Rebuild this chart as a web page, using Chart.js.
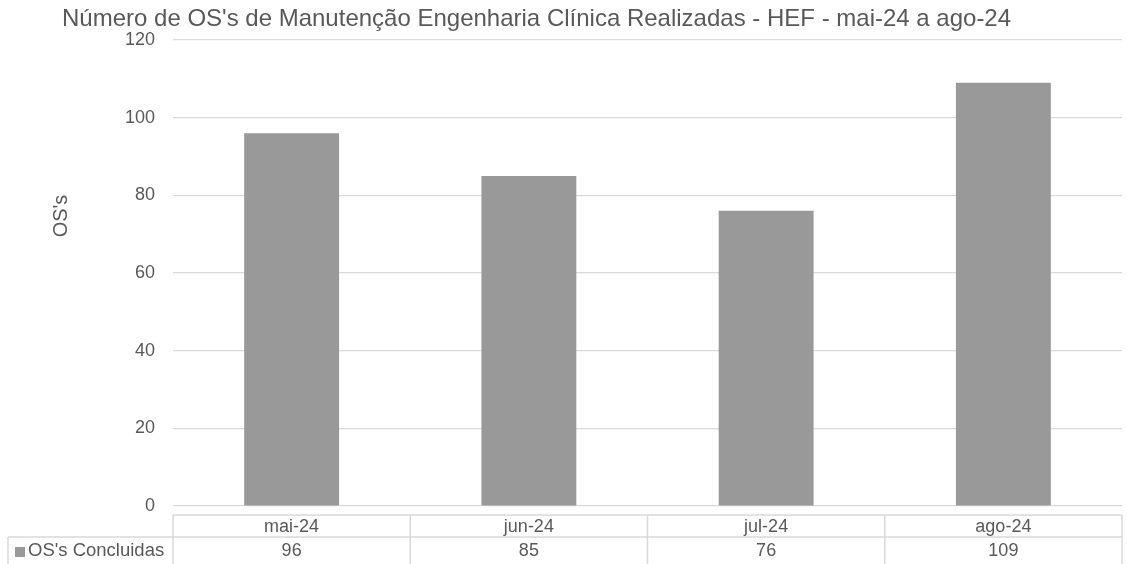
<!DOCTYPE html>
<html>
<head>
<meta charset="utf-8">
<script src="https://cdn.jsdelivr.net/npm/chart.js@4"></script>
<style>
  html, body { margin: 0; padding: 0; background: #fff; }
  #wrap { width: 1127px; height: 564px; }
</style>
</head>
<body>
<div id="wrap"><canvas id="graph" width="1127" height="564"></canvas></div>
<script>
const chart_title = "Número de OS's de Manutenção Engenharia Clínica Realizadas - HEF - mai-24 a ago-24";
const axis_title = "OS's";
const series_name = "OS's Concluidas";
const months = ["mai-24", "jun-24", "jul-24", "ago-24"];
const os_done = [96, 85, 76, 109];
const y_ticks = [0, 20, 40, 60, 80, 100, 120];

const text_color = "#595959";
const line_color = "#d9d9d9";
const bar_color = "#999999";
const font_family = "'Liberation Sans', Arial, sans-serif";

/* title, axis title and data table under the plot */
const extras = {
    id: "extras",
    afterDraw(chart) {
        const c = chart.ctx;
        const area = chart.chartArea;
        const xs = chart.scales.x;
        const step = (area.right - area.left) / months.length;

        c.save();
        c.fillStyle = text_color;
        c.textBaseline = "middle";

        c.font = "24px " + font_family;
        c.textAlign = "left";
        c.fillText(chart_title, 62, 19);

        c.save();
        c.translate(61, 216);
        c.rotate(-Math.PI / 2);
        c.textAlign = "center";
        c.font = "20px " + font_family;
        c.fillText(axis_title, 0, 0);
        c.restore();

        // table grid, open at the bottom edge
        const top1 = 515, top2 = 537, bottom = 564;
        c.strokeStyle = line_color;
        c.lineWidth = 1.5;
        c.beginPath();
        c.moveTo(area.left, top1); c.lineTo(area.right, top1);
        c.moveTo(8, top2); c.lineTo(area.right, top2);
        c.moveTo(8, top2); c.lineTo(8, bottom);
        for (let i = 0; i <= months.length; i++) {
            const x = area.left + step * i;
            c.moveTo(x, top1); c.lineTo(x, bottom);
        }
        c.stroke();

        c.font = "18px " + font_family;
        c.textAlign = "center";
        for (let i = 0; i < months.length; i++) {
            const x = xs.getPixelForValue(i);
            c.fillText(months[i], x, 527);
            c.fillText(String(os_done[i]), x, 551);
        }

        c.fillStyle = bar_color;
        c.fillRect(15, 547, 10, 10);
        c.fillStyle = text_color;
        c.textAlign = "left";
        c.font = "18.5px " + font_family;
        c.fillText(series_name, 28, 551);
        c.restore();
    }
};

new Chart(document.getElementById("graph"), {
    type: "bar",
    data: {
        labels: months,
        datasets: [{
            label: series_name,
            data: os_done,
            backgroundColor: bar_color,
            borderWidth: 0,
            barPercentage: 0.4,
            categoryPercentage: 1.0
        }]
    },
    options: {
        responsive: false,
        animation: false,
        layout: { padding: { left: 0, top: 40, right: 5, bottom: 58 } },
        plugins: {
            legend: { display: false },
            tooltip: { enabled: false }
        },
        scales: {
            x: { display: false },
            y: {
                min: 0,
                max: 120,
                afterFit(scale) { scale.width = 173; },
                afterBuildTicks(scale) {
                    scale.ticks = y_ticks.map(v => ({ value: v }));
                },
                border: { display: false },
                grid: { color: line_color, lineWidth: 1.2, drawTicks: false },
                ticks: {
                    color: text_color,
                    padding: 18,
                    font: { size: 18, family: font_family }
                }
            }
        }
    },
    plugins: [extras]
});
</script>
</body>
</html>
